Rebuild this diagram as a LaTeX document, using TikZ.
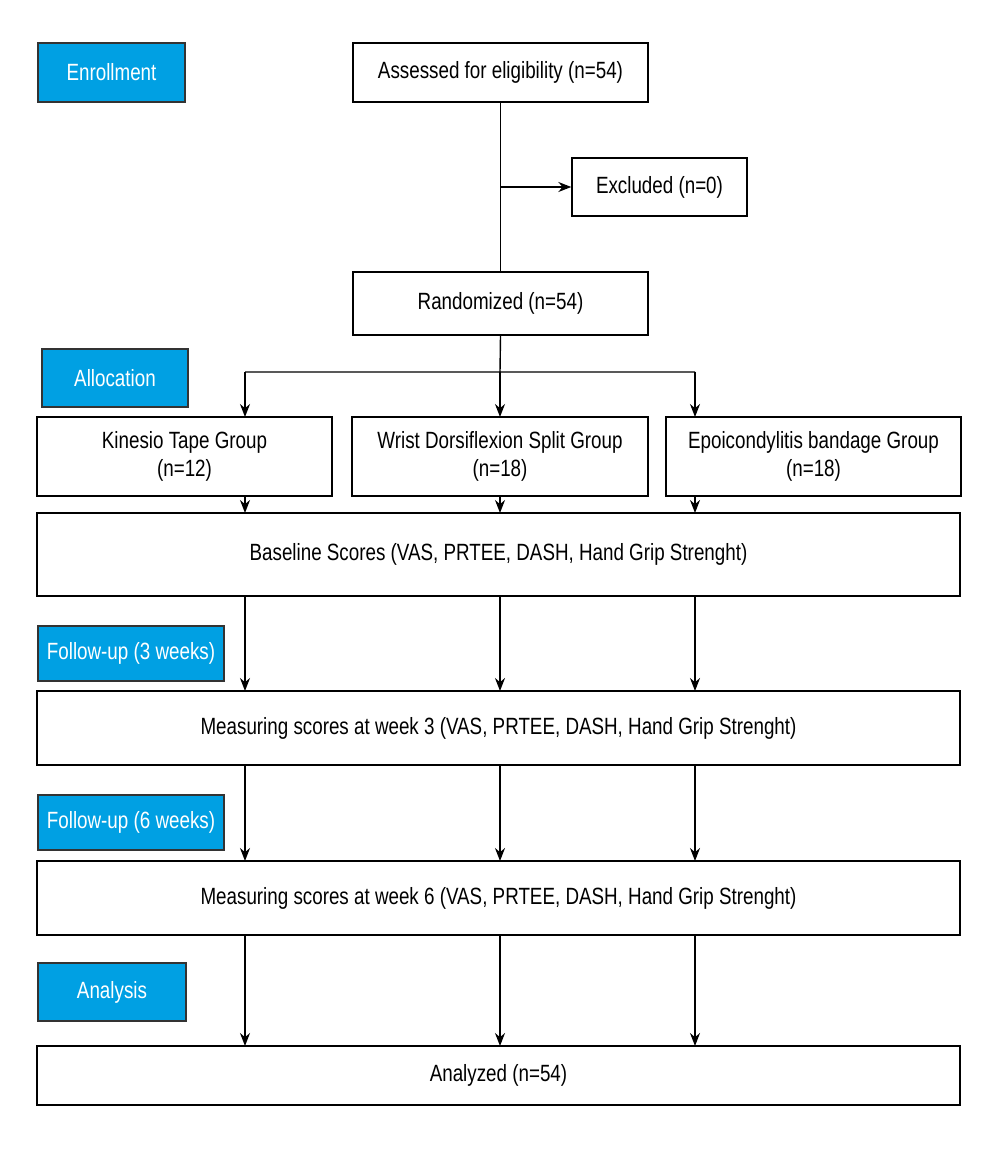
\documentclass[tikz,border=0pt]{standalone}
\usepackage{fontspec}
\setmainfont{Liberation Sans}[FakeStretch=0.8]
\usetikzlibrary{arrows.meta}
\definecolor{lab}{HTML}{00A0E3}
\begin{document}
\begin{tikzpicture}[x=1pt,y=-1pt,
 box/.style={draw,line width=1.4pt,fill=white},
 lbl/.style={draw=black!80,line width=1.6pt,fill=lab},
 t/.style={font=\fontsize{23.5}{28}\selectfont,align=center},
 arr/.style={-{Stealth[length=13pt,width=10pt]},line width=1.4pt},
 ln/.style={line width=1.4pt}]
\useasboundingbox (0,0) rectangle (1000,1150);
\newcommand\bx[6]{\node[#1,minimum width={#4-#2},minimum height={#5-#3},inner sep=0pt] (#6) at ({(#2+#4)/2},{(#3+#5)/2}) {};}
\bx{lbl}{38}{43}{185}{102}{enr}\node[t,text=white] at (enr) {Enrollment};
\bx{box}{353}{43}{648}{102}{ass}\node[t] at (ass) {Assessed for eligibility (n=54)};
\bx{box}{572}{158}{747}{216}{exc}\node[t] at (exc) {Excluded (n=0)};
\bx{box}{353}{272}{648}{335}{ran}\node[t] at (ran) {Randomized (n=54)};
\bx{lbl}{42}{349}{188}{407}{all}\node[t,text=white] at (all) {Allocation};
\bx{box}{37}{417}{332}{496}{g1}\node[t] at (g1) {Kinesio Tape Group\\(n=12)};
\bx{box}{352}{417}{648}{496}{g2}\node[t] at (g2) {Wrist Dorsiflexion Split Group\\(n=18)};
\bx{box}{666}{417}{961}{496}{g3}\node[t] at (g3) {Epoicondylitis bandage Group\\(n=18)};
\bx{box}{37}{513}{960}{596}{base}\node[t] at (base) {Baseline Scores (VAS, PRTEE, DASH, Hand Grip Strenght)};
\bx{lbl}{38}{626}{224}{681}{f3}\node[t,text=white] at (f3) {Follow-up (3 weeks)};
\bx{box}{37}{691}{960}{765}{m3}\node[t] at (m3) {Measuring scores at week 3 (VAS, PRTEE, DASH, Hand Grip Strenght)};
\bx{lbl}{38}{795}{224}{850}{f6}\node[t,text=white] at (f6) {Follow-up (6 weeks)};
\bx{box}{37}{861}{960}{935}{m6}\node[t] at (m6) {Measuring scores at week 6 (VAS, PRTEE, DASH, Hand Grip Strenght)};
\bx{lbl}{38}{963}{186}{1021}{ana}\node[t,text=white] at (ana) {Analysis};
\bx{box}{37}{1046}{960}{1105}{fin}\node[t] at (fin) {Analyzed (n=54)};
\coordinate (j) at (500,187);
\draw[ln] (ass.south) -- (ran.north);
\draw[arr] (j) -- (exc.west|-j);
\draw[ln] (ran.south) -- (500,372) (245,372) -- (695,372);
\draw[arr] (245,372) -- (245,417);
\draw[arr] (500,372) -- (500,417);
\draw[arr] (695,372) -- (695,417);
\foreach \x in {245,500,695}{
 \draw[arr] (\x,496) -- (\x,513);
 \draw[arr] (\x,596) -- (\x,691);
 \draw[arr] (\x,765) -- (\x,861);
 \draw[arr] (\x,935) -- (\x,1046);
}
\end{tikzpicture}
\end{document}
